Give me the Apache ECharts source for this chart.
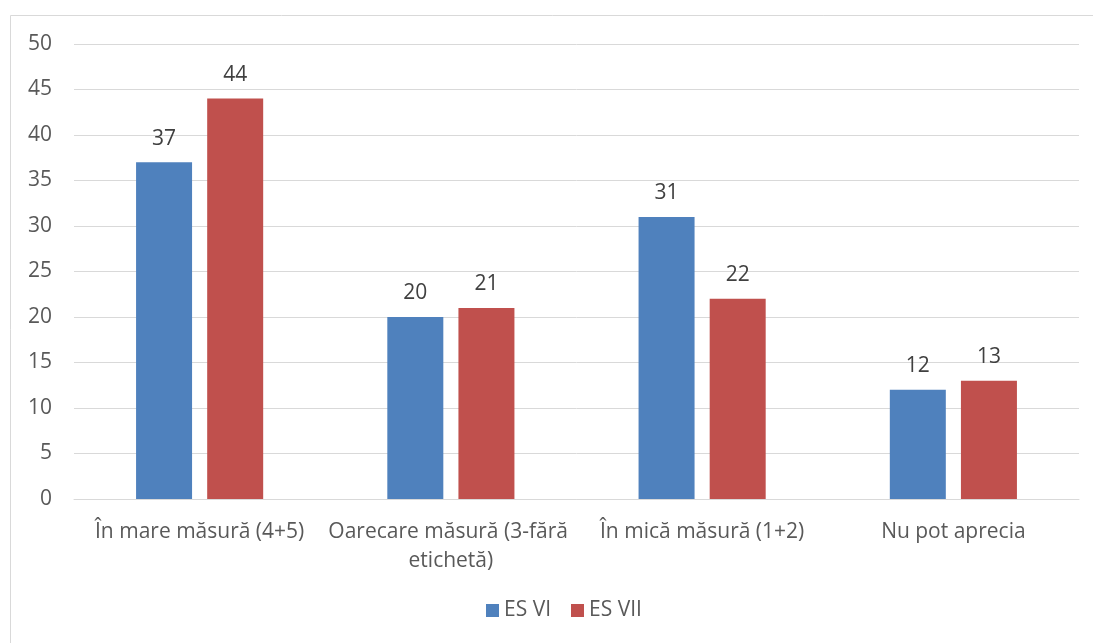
<!DOCTYPE html>
<html>
<head>
<meta charset="utf-8">
<script src="https://cdn.jsdelivr.net/npm/echarts@6/dist/echarts.min.js"></script>
<style>
html,body{margin:0;padding:0;background:#fff;}
#chart{width:1093px;height:643px;}
</style>
</head>
<body>
<div id="chart"></div>
<script>
const categories = ['În mare măsură (4+5)', 'Oarecare măsură (3-fără etichetă)', 'În mică măsură (1+2)', 'Nu pot aprecia'];
const esVI = [37, 20, 31, 12];
const esVII = [44, 21, 22, 13];
const seriesNames = ['ES VI', 'ES VII'];

const chart = echarts.init(document.getElementById('chart'));
const font = '"Open Sans", sans-serif';
const fs = 21;
const labelStyle = {show: true, position: 'top', distance: 13, color: '#404040', fontSize: fs, fontFamily: font};
chart.setOption({
  animation: false,
  graphic: [{type: 'rect', shape: {x: 10.5, y: 15.5, width: 1200, height: 800}, style: {fill: 'none', stroke: '#D9D9D9', lineWidth: 1}, silent: true}],
  grid: {left: 74, right: 14, top: 44, bottom: 144, containLabel: false, outerBoundsMode: 'none'},
  legend: {
    bottom: 17, left: 481, itemWidth: 13, itemHeight: 13, itemGap: 20,
    icon: 'rect',
    textStyle: {color: '#595959', fontSize: fs, fontFamily: font},
    data: seriesNames
  },
  xAxis: {
    type: 'category', data: categories,
    axisLine: {lineStyle: {color: '#D9D9D9', width: 1}},
    axisTick: {show: false},
    axisLabel: {color: '#595959', fontSize: fs, fontFamily: font, margin: 19, interval: 0, width: 290, overflow: 'break', lineHeight: 29}
  },
  yAxis: {
    type: 'value', min: 0, max: 50, interval: 5,
    axisLine: {show: false}, axisTick: {show: false},
    axisLabel: {color: '#595959', fontSize: fs, fontFamily: font, margin: 22},
    splitLine: {lineStyle: {color: '#D9D9D9', width: 1}}
  },
  series: [
    {name: seriesNames[0], type: 'bar', data: esVI, barWidth: 56, barGap: '27%', itemStyle: {color: '#4F81BD'}, label: labelStyle},
    {name: seriesNames[1], type: 'bar', data: esVII, barWidth: 56, barGap: '27%', itemStyle: {color: '#C0504D'}, label: labelStyle}
  ]
});
</script>
</body>
</html>
